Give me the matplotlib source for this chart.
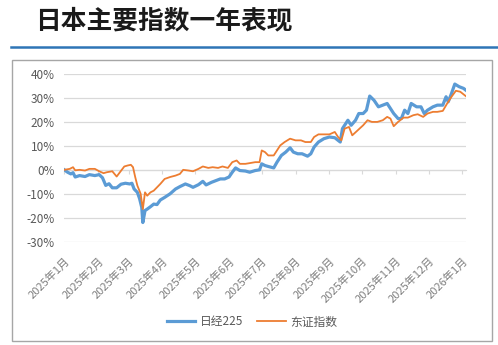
import matplotlib
matplotlib.use("Agg")
import matplotlib.pyplot as plt
import pandas as pd
from matplotlib.ticker import FuncFormatter

plt.rcParams['font.family'] = ['Noto Sans CJK SC', 'DejaVu Sans']

# 日经225 (cumulative return, %)
nikkei_dates = [
    "2025-01-01", "2025-01-04", "2025-01-07", "2025-01-09", "2025-01-11", "2025-01-15",
    "2025-01-20", "2025-01-24", "2025-01-29", "2025-02-02", "2025-02-05", "2025-02-08",
    "2025-02-11", "2025-02-14", "2025-02-18", "2025-02-22", "2025-02-26", "2025-03-02",
    "2025-03-04", "2025-03-06", "2025-03-09", "2025-03-11", "2025-03-13", "2025-03-14",
    "2025-03-16", "2025-03-18", "2025-03-21", "2025-03-24", "2025-03-27", "2025-03-30",
    "2025-04-03", "2025-04-08", "2025-04-13", "2025-04-17", "2025-04-22", "2025-04-26",
    "2025-04-29", "2025-05-04", "2025-05-08", "2025-05-11", "2025-05-16", "2025-05-20",
    "2025-05-24", "2025-05-28", "2025-06-01", "2025-06-04", "2025-06-07", "2025-06-11",
    "2025-06-16", "2025-06-20", "2025-06-25", "2025-06-29", "2025-07-01", "2025-07-04",
    "2025-07-07", "2025-07-12", "2025-07-15", "2025-07-19", "2025-07-23", "2025-07-27",
    "2025-07-30", "2025-08-03", "2025-08-07", "2025-08-12", "2025-08-15", "2025-08-18",
    "2025-08-22", "2025-08-27", "2025-09-01", "2025-09-06", "2025-09-09", "2025-09-11",
    "2025-09-13", "2025-09-18", "2025-09-21", "2025-09-25", "2025-09-28", "2025-10-02",
    "2025-10-05", "2025-10-08", "2025-10-12", "2025-10-16", "2025-10-20", "2025-10-24",
    "2025-10-27", "2025-10-30", "2025-11-03", "2025-11-06", "2025-11-09", "2025-11-12",
    "2025-11-15", "2025-11-20", "2025-11-24", "2025-11-27", "2025-11-30", "2025-12-05",
    "2025-12-09", "2025-12-14", "2025-12-17", "2025-12-19", "2025-12-22", "2025-12-25",
    "2025-12-29", "2026-01-02", "2026-01-04",
]
nikkei = [
    0.0, -1.0, -1.7, -1.2, -3.0, -2.4,
    -2.8, -2.0, -2.4, -2.0, -3.3, -6.5,
    -5.8, -7.5, -7.5, -6.0, -5.6, -5.9,
    -5.6, -8.0, -9.4, -12.0, -15.7, -22.0,
    -17.0, -16.4, -15.4, -14.3, -14.5, -12.6,
    -11.5, -10.0, -8.0, -7.0, -5.9, -6.6,
    -7.3, -6.2, -4.8, -6.3, -5.2, -4.5,
    -3.8, -3.8, -3.0, -1.0, 0.8, -0.3,
    -0.5, -1.0, -0.3, 0.0, 2.5, 1.8,
    1.4, 0.8, 3.2, 6.0, 7.4, 9.2,
    7.4, 6.7, 6.7, 5.7, 6.7, 9.5,
    11.6, 13.0, 13.7, 13.4, 12.3, 11.6,
    17.2, 20.7, 18.6, 20.7, 23.5, 23.5,
    24.9, 30.8, 29.0, 26.3, 27.0, 27.7,
    25.6, 23.5, 21.4, 21.4, 24.9, 23.5,
    27.7, 26.3, 26.3, 23.5, 24.9, 26.3,
    27.0, 27.0, 30.5, 28.4, 31.9, 35.8,
    34.7, 34.0, 33.3,
]

# 东证指数 (cumulative return, %)
topix_dates = [
    "2025-01-01", "2025-01-06", "2025-01-09", "2025-01-11", "2025-01-15", "2025-01-20",
    "2025-01-24", "2025-01-29", "2025-02-02", "2025-02-06", "2025-02-09", "2025-02-14",
    "2025-02-18", "2025-02-21", "2025-02-25", "2025-02-28", "2025-03-03", "2025-03-05",
    "2025-03-07", "2025-03-09", "2025-03-12", "2025-03-14", "2025-03-16", "2025-03-18",
    "2025-03-21", "2025-03-24", "2025-03-27", "2025-03-30", "2025-04-03", "2025-04-08",
    "2025-04-13", "2025-04-17", "2025-04-20", "2025-04-25", "2025-04-29", "2025-05-04",
    "2025-05-08", "2025-05-13", "2025-05-17", "2025-05-22", "2025-05-26", "2025-05-31",
    "2025-06-04", "2025-06-08", "2025-06-11", "2025-06-16", "2025-06-20", "2025-06-25",
    "2025-06-29", "2025-07-01", "2025-07-04", "2025-07-07", "2025-07-12", "2025-07-15",
    "2025-07-18", "2025-07-22", "2025-07-27", "2025-08-01", "2025-08-06", "2025-08-10",
    "2025-08-15", "2025-08-18", "2025-08-22", "2025-08-27", "2025-09-01", "2025-09-06",
    "2025-09-09", "2025-09-12", "2025-09-15", "2025-09-19", "2025-09-22", "2025-09-27",
    "2025-10-02", "2025-10-06", "2025-10-10", "2025-10-15", "2025-10-20", "2025-10-24",
    "2025-10-27", "2025-10-30", "2025-11-03", "2025-11-08", "2025-11-12", "2025-11-17",
    "2025-11-21", "2025-11-26", "2025-11-30", "2025-12-05", "2025-12-09", "2025-12-14",
    "2025-12-18", "2025-12-22", "2025-12-26", "2025-12-30", "2026-01-04",
]
topix = [
    0.0, 0.4, 1.1, -0.2, 0.0, -0.3,
    0.4, 0.4, -0.6, -1.4, -1.0, -0.6,
    -2.8, -1.0, 1.4, 1.8, 2.1, 1.1,
    -3.0, -6.6, -10.0, -16.4, -9.4, -10.8,
    -9.4, -8.7, -7.3, -5.9, -3.8, -3.0,
    -2.4, -1.7, 0.0, -0.3, -0.6, 0.4,
    1.4, 0.8, 1.1, 0.8, 1.4, 0.8,
    3.2, 3.9, 2.5, 2.5, 2.8, 3.2,
    3.2, 8.1, 7.4, 6.0, 6.0, 8.1,
    10.2, 11.6, 13.0, 12.3, 12.3, 11.6,
    11.6, 13.7, 14.8, 14.8, 14.8, 15.8,
    13.7, 12.3, 17.2, 17.9, 14.4, 16.5,
    18.6, 20.7, 20.0, 20.0, 20.7, 22.1,
    21.4, 18.2, 20.0, 21.8, 21.8, 22.8,
    23.2, 22.1, 23.5, 24.2, 24.2, 24.6,
    27.7, 30.5, 33.0, 32.6, 30.8,
]

month_ticks = pd.date_range("2025-01-01", "2026-01-01", freq="MS")
month_labels = [f"{d.year}年{d.month}月" for d in month_ticks]

fig = plt.figure(figsize=(4.98, 3.45), dpi=100)

# header
fig.text(35 / 498, 1 - 21 / 345, "日本主要指数一年表现", fontsize=18.5, fontweight="bold",
         color="#1a1a1a", ha="left", va="center")
fig.add_artist(plt.Line2D([11 / 498, 1.0], [1 - 47 / 345] * 2, color="#2E75B6", lw=1.8,
                          transform=fig.transFigure))
fig.add_artist(plt.Rectangle((12 / 498, 1 - 341 / 345), 480 / 498, 281.5 / 345,
                             fill=False, edgecolor="#a6a6a6", lw=1.0, transform=fig.transFigure))

ax = fig.add_axes([64.3 / 498, 1 - 241.7 / 345, 401.4 / 498, 167.7 / 345])

ax.plot(pd.to_datetime(nikkei_dates), nikkei, color="#5B9BD5", lw=2.3, label="日经225",
        solid_joinstyle="round", zorder=3)
ax.plot(pd.to_datetime(topix_dates), topix, color="#ED7D31", lw=1.3, label="东证指数",
        solid_joinstyle="round", zorder=4)

ax.set_ylim(-30, 40)
ax.set_yticks(range(-30, 41, 10))
ax.yaxis.set_major_formatter(FuncFormatter(lambda v, p: f"{int(v)}%"))
ax.set_xlim(pd.Timestamp("2025-01-01"), pd.Timestamp("2026-01-04"))
ax.set_xticks(month_ticks)
ax.set_xticklabels(month_labels, rotation=45, ha="right", va="top", rotation_mode="anchor",
                   color="#7f7f7f", fontsize=8)

ax.grid(axis="y", color="#d9d9d9", lw=0.9)
ax.set_axisbelow(True)
for s in ax.spines.values():
    s.set_visible(False)
ax.tick_params(axis="y", length=0, labelsize=8.5, labelcolor="#595959", pad=7)
ax.tick_params(axis="x", length=0, pad=10)

# category axis line at 0% with small ticks
sec = ax.secondary_xaxis(30 / 70)
sec.set_xticks(month_ticks)
sec.set_xticklabels([])
sec.spines["bottom"].set_color("#d9d9d9")
sec.tick_params(axis="x", length=3, color="#d9d9d9", direction="out")

fig.legend(loc="center", bbox_to_anchor=(252 / 498, 1 - 322 / 345), ncol=2, frameon=False,
           fontsize=8.5, handlelength=2.4, columnspacing=1.2, handletextpad=0.4,
           labelcolor="#595959")

fig.savefig("out.png", dpi=100)
